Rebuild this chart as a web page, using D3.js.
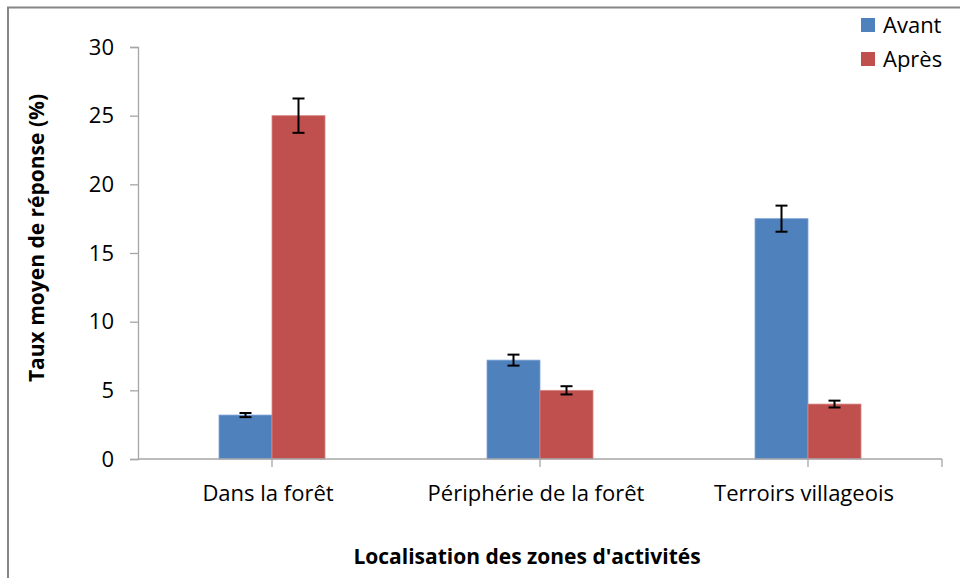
<!DOCTYPE html>
<html>
<head>
<meta charset="utf-8">
<script src="https://cdn.jsdelivr.net/npm/d3@7"></script>
<style>
  body { margin: 0; background: #fff; }
  svg text { font-family: "Open Sans", sans-serif; fill: #000; }
</style>
</head>
<body>
<div id="chart"></div>
<script>
// categories and series
var zones = ["Dans la forêt", "Périphérie de la forêt", "Terroirs villageois"];
var seriesNames = ["Avant", "Après"];
var avant = [3.2, 7.2, 17.5];
var apres = [25, 5, 4];
var avantErr = [0.15, 0.4, 0.95];
var apresErr = [1.25, 0.3, 0.25];
var yTicks = [0, 5, 10, 15, 20, 25, 30];

var width = 960, height = 578;
var x0 = 138, x1 = 942, yTop = 47, yBot = 459;

var svg = d3.select("#chart").append("svg")
    .attr("width", width)
    .attr("height", height);

// frame (only left and top visible in the crop)
svg.append("path")
    .attr("d", "M8,578 V7.5 H960")
    .attr("fill", "none")
    .attr("stroke", "#868686")
    .attr("stroke-width", 2);

var y = d3.scaleLinear().domain([0, 30]).range([yBot, yTop]);

var xBand = d3.scaleBand()
    .domain(zones)
    .range([x0, x1])
    .paddingInner(0.6045)
    .paddingOuter(0.30225);

var xSub = d3.scaleBand()
    .domain(seriesNames)
    .range([0, xBand.bandwidth()]);

var color = d3.scaleOrdinal().domain(seriesNames).range(["#4f81bd", "#c0504d"]);
var edge = d3.scaleOrdinal().domain(seriesNames).range(["#7ea3d4", "#d78684"]);

var rows = zones.map(function(z, i) {
  return { zone: z, values: [
    { s: "Avant", v: avant[i], e: avantErr[i] },
    { s: "Après", v: apres[i], e: apresErr[i] }
  ]};
});

// y axis
var yAxis = svg.append("g")
    .attr("transform", "translate(" + x0 + ",0)")
    .call(d3.axisLeft(y).tickValues(yTicks).tickSize(8).tickPadding(16));
yAxis.selectAll("line, path").attr("stroke", "#a6a6a6").attr("stroke-width", 1.3);
yAxis.selectAll("text").style("font-size", "22px").attr("font-family", null);

// bars
var groups = svg.selectAll(".grp")
    .data(rows)
    .enter().append("g")
    .attr("class", "grp")
    .attr("transform", function(d) { return "translate(" + xBand(d.zone) + ",0)"; });

groups.selectAll("rect")
    .data(function(d) { return d.values; })
    .enter().append("rect")
    .attr("x", function(d) { return xSub(d.s); })
    .attr("y", function(d) { return y(d.v); })
    .attr("width", xSub.bandwidth())
    .attr("height", function(d) { return yBot - y(d.v); })
    .attr("fill", function(d) { return color(d.s); })
    .attr("stroke", function(d) { return edge(d.s); })
    .attr("stroke-width", 0.8);

// error bars
var eb = groups.selectAll(".err")
    .data(function(d) { return d.values; })
    .enter().append("g")
    .attr("class", "err")
    .attr("transform", function(d) { return "translate(" + (xSub(d.s) + xSub.bandwidth() / 2) + ",0)"; });
eb.append("line")
    .attr("y1", function(d) { return y(d.v + d.e); })
    .attr("y2", function(d) { return y(d.v - d.e); })
    .attr("stroke", "#000").attr("stroke-width", 2);
eb.append("line")
    .attr("x1", -6).attr("x2", 6)
    .attr("y1", function(d) { return y(d.v + d.e); })
    .attr("y2", function(d) { return y(d.v + d.e); })
    .attr("stroke", "#000").attr("stroke-width", 2);
eb.append("line")
    .attr("x1", -6).attr("x2", 6)
    .attr("y1", function(d) { return y(d.v - d.e); })
    .attr("y2", function(d) { return y(d.v - d.e); })
    .attr("stroke", "#000").attr("stroke-width", 2);

// x axis line with ticks at group centres and the right end
svg.append("line")
    .attr("x1", x0).attr("x2", x1)
    .attr("y1", yBot).attr("y2", yBot)
    .attr("stroke", "#a6a6a6").attr("stroke-width", 1.3);
var tickXs = zones.map(function(z) { return xBand(z) + xBand.bandwidth() / 2; }).concat([x1]);
svg.selectAll(".xtick")
    .data(tickXs)
    .enter().append("line")
    .attr("class", "xtick")
    .attr("x1", function(d) { return d; }).attr("x2", function(d) { return d; })
    .attr("y1", yBot).attr("y2", yBot + 8)
    .attr("stroke", "#a6a6a6").attr("stroke-width", 1.3);

svg.selectAll(".xlab")
    .data(zones)
    .enter().append("text")
    .attr("class", "xlab")
    .attr("x", function(d) { return xBand(d) + xBand.bandwidth() / 2 - 4; })
    .attr("y", 501)
    .attr("text-anchor", "middle")
    .style("font-size", "22px")
    .text(function(d) { return d; });

// axis titles
svg.append("text")
    .attr("x", 527).attr("y", 564)
    .attr("text-anchor", "middle")
    .style("font-size", "21px")
    .style("font-weight", "bold")
    .text("Localisation des zones d'activités");

svg.append("text")
    .attr("transform", "translate(44,238) rotate(-90)")
    .attr("text-anchor", "middle")
    .style("font-size", "21px")
    .style("font-weight", "bold")
    .text("Taux moyen de réponse (%)");

// legend
var legend = svg.selectAll(".leg")
    .data(seriesNames)
    .enter().append("g")
    .attr("class", "leg")
    .attr("transform", function(d, i) { return "translate(861," + (18 + i * 34) + ")"; });
legend.append("rect")
    .attr("width", 14).attr("height", 14)
    .attr("fill", color);
legend.append("text")
    .attr("x", 22).attr("y", 7)
    .attr("dy", "0.35em")
    .style("font-size", "22px")
    .text(function(d) { return d; });
</script>
</body>
</html>
